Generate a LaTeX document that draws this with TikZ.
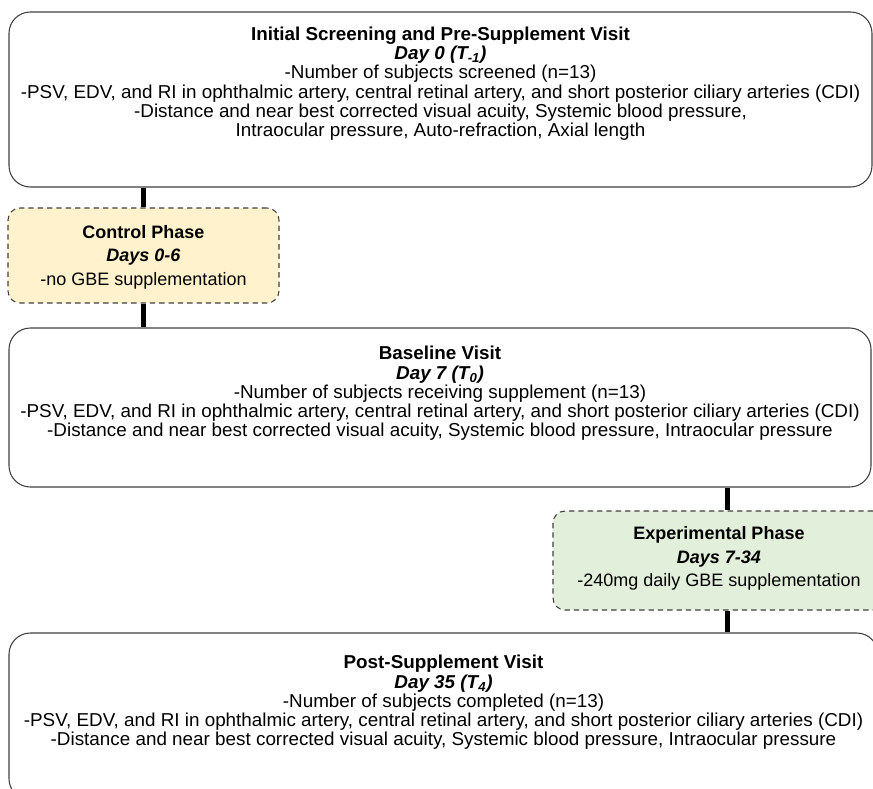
\documentclass[tikz,border=0pt]{standalone}
\usepackage{fontspec}
\setmainfont{Liberation Sans}
\newfontfamily\narrowfont[FakeStretch=1.01]{Liberation Sans}
\usetikzlibrary{positioning}

\definecolor{controlFill}{HTML}{FFF2CC}
\definecolor{experimentFill}{HTML}{E2EFDA}
\definecolor{edgeGray}{HTML}{404040}

\tikzset{
  visitbox/.style={draw=edgeGray, line width=0.8pt, rounded corners=16pt, fill=white},
  phasebox/.style={draw=edgeGray, line width=0.8pt, dash pattern=on 4pt off 3pt, rounded corners=9pt},
  visittext/.style={align=center, inner sep=0pt, font=\narrowfont\fontsize{14}{14.4}\selectfont},
  phasetext/.style={align=center, inner sep=0pt, font=\fontsize{13.5}{17.6}\selectfont},
  link/.style={line width=3.75pt, black}
}

\begin{document}
\begin{tikzpicture}[x=0.75pt,y=-0.75pt]
    \useasboundingbox (0,0) rectangle (873,788);
    \clip (0,0) rectangle (873,788);

    % boxes
    \node[visitbox, minimum width=647.25pt, minimum height=131.25pt] (screening) at (440.5,99.5) {};
    \node[phasebox, fill=controlFill, minimum width=203.25pt, minimum height=71.25pt] (control) at (143.5,255.5) {};
    \node[visitbox, minimum width=646.5pt, minimum height=119.25pt] (baseline) at (440,407.5) {};
    \node[phasebox, fill=experimentFill, minimum width=249pt, minimum height=74.25pt] (experimental) at (719,560.5) {};
    \node[visitbox, minimum width=651.75pt, minimum height=125.25pt] (post) at (443.5,716.5) {};

    \coordinate (experimentalHook) at ([xshift=6pt]experimental.north);
    \coordinate (experimentalFoot) at ([xshift=6pt]experimental.south);

    % texts
    \node[visittext, below=11.5pt of screening.north] (screeningText)
      {\textbf{Initial Screening and Pre-Supplement Visit}\\
       \textbf{\textit{Day 0 (T\textsubscript{-1})}}\\
       -Number of subjects screened (n=13)\\
       -PSV, EDV, and RI in ophthalmic artery, central retinal artery, and short posterior ciliary arteries (CDI)\\
       -Distance and near best corrected visual acuity, Systemic blood pressure,\\
       Intraocular pressure, Auto-refraction, Axial length};
    \node[phasetext, below=13pt of control.north] (controlText)
      {\textbf{Control Phase}\\
       \textbf{\textit{Days 0-6}}\\
       -no GBE supplementation};
    \node[visittext, below=14pt of baseline.north] (baselineText)
      {\textbf{Baseline Visit}\\
       \textbf{\textit{Day 7 (T\textsubscript{0})}}\\
       -Number of subjects receiving supplement (n=13)\\
       -PSV, EDV, and RI in ophthalmic artery, central retinal artery, and short posterior ciliary arteries (CDI)\\
       -Distance and near best corrected visual acuity, Systemic blood pressure, Intraocular pressure};
    \node[phasetext, below=12pt of experimental.north] (experimentalText)
      {\textbf{Experimental Phase}\\
       \textbf{\textit{Days 7-34}}\\
       -240mg daily GBE supplementation};
    \node[visittext, below=17pt of post.north] (postText)
      {\textbf{Post-Supplement Visit}\\
       \textbf{\textit{Day 35 (T\textsubscript{4})}}\\
       -Number of subjects completed (n=13)\\
       -PSV, EDV, and RI in ophthalmic artery, central retinal artery, and short posterior ciliary arteries (CDI)\\
       -Distance and near best corrected visual acuity, Systemic blood pressure, Intraocular pressure};

    % connectors
    \draw[link] (screening.south -| control.north) -- (control.north);
    \draw[link] (control.south) -- (control.south |- baseline.north);
    \draw[link] (baseline.south -| experimentalHook) -- (experimentalHook);
    \draw[link] (experimentalFoot) -- (experimentalFoot |- post.north);
\end{tikzpicture}
\end{document}
